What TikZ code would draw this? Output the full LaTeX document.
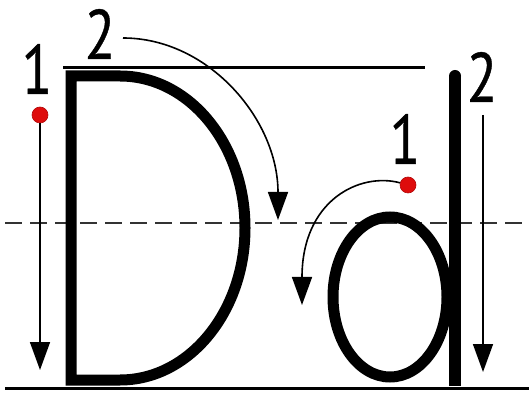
\documentclass[tikz,border=0pt]{standalone}
\usepackage{fontspec}
\newfontfamily\numfont[FakeStretch=0.8, FakeBold=0.6]{PT Sans}
\usetikzlibrary{arrows.meta, positioning}
\definecolor{dotred}{RGB}{222,12,12}
\tikzstyle{guide}=[line width=3pt]
\tikzstyle{midline}=[line width=2pt, dash pattern=on 17pt off 8pt, black!80]
\tikzstyle{letter}=[line width=11pt]
\tikzstyle{trace}=[line width=1.6pt]
\tikzstyle{startdot}=[circle, fill=dotred, draw=dotred!80!black, line width=.6pt, minimum size=16pt, inner sep=0pt]
\tikzstyle{num}=[font=\numfont\fontsize{70}{70}\selectfont, inner sep=0pt]

\begin{document}
\begin{tikzpicture}[x=1pt, y=1pt, node distance=46pt, >={Triangle[width=20pt,length=28pt]}]
    \useasboundingbox (0,0) rectangle (529,396);
    % ruling
    \draw[guide] (5,8) -- (529,8);
    \draw[midline] (5,173) -- (529,173);
    \draw[guide] (63,328) -- (425,328);
    % capital D
    \draw[letter, line join=miter] (71,16) -- (71,320) -- (120,320)
        arc[start angle=90, end angle=-90, x radius=125, y radius=152] -- cycle;
    % small d
    \draw[letter] (390,99) ellipse [x radius=57, y radius=80];
    \draw[letter, line width=12pt] (455,10) -- (455,320);
    \fill (455,320) circle (6pt);
    % strokes of D
    \node[startdot] (dotD) at (40,281) {};
    \node[num, above of=dotD, xshift=-3pt] (oneD) {1};
    \node[num] (twoD) at (100,362) {2};
    \coordinate (tipD1) at (40,26);
    \coordinate (arcD) at (123,358);
    \coordinate (tipD2) at (278,176);
    \draw[trace, ->] (dotD) -- (tipD1);
    \draw[trace, ->] (arcD) .. controls +(85.5,0) and +(0,100.5) .. (tipD2);
    % strokes of d
    \node[startdot] (dotd) at (408,211) {};
    \node[num, above of=dotd, xshift=-3pt] (oned) {1};
    \node[num] (twod) at (482,319) {2};
    \coordinate (tipd1) at (302,91);
    \coordinate (topd2) at (483,281);
    \coordinate (tipd2) at (483,24);
    \draw[trace, ->] (dotd) .. controls +(-48,13) and +(0,105) .. (tipd1);
    \draw[trace, ->] (topd2) -- (tipd2);
\end{tikzpicture}
\end{document}
